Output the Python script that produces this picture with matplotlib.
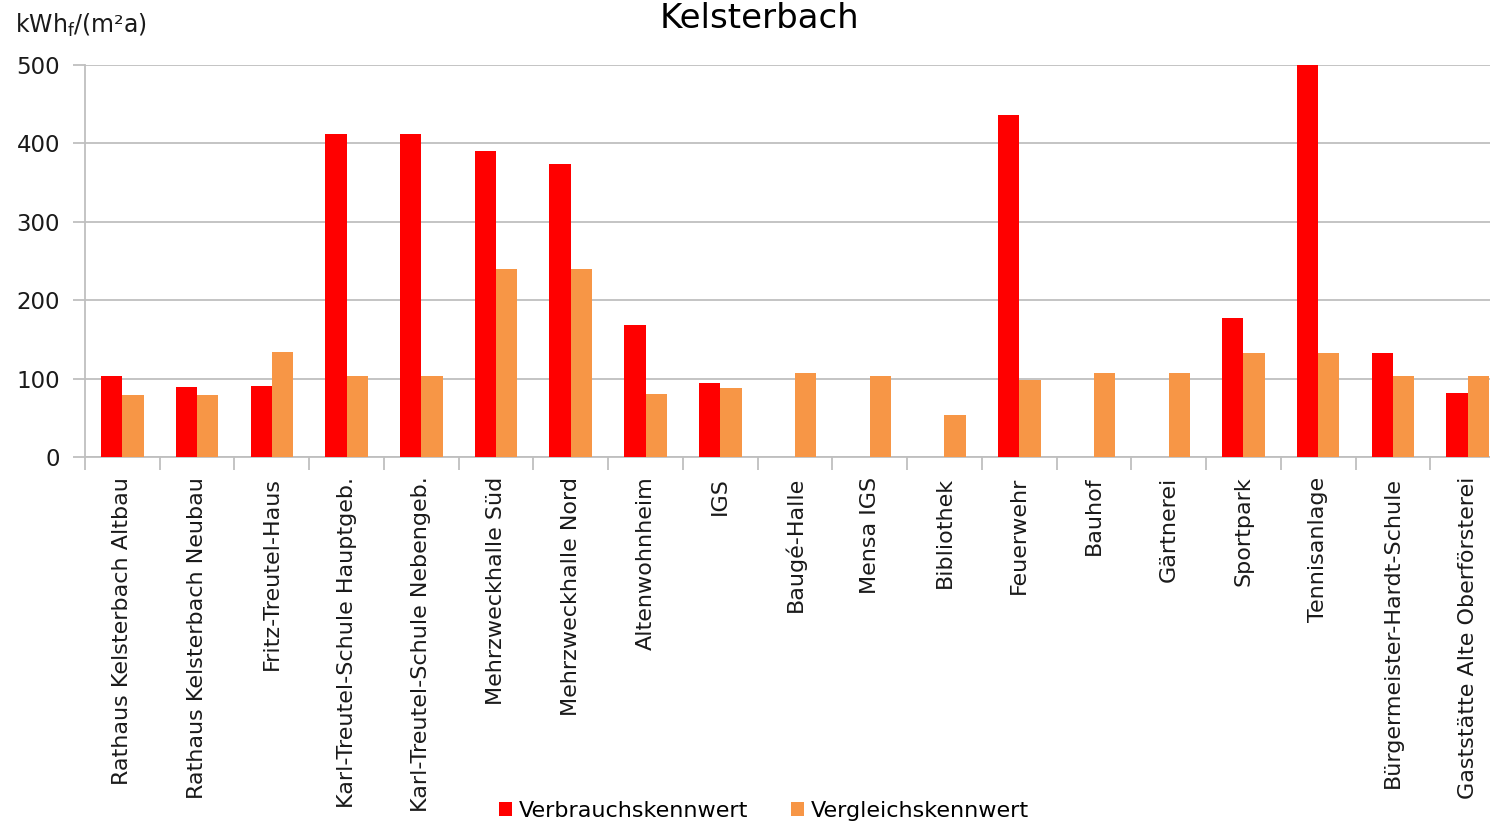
import matplotlib
matplotlib.use("Agg")
import matplotlib.pyplot as plt
import numpy as np

categories = [
    "Rathaus Kelsterbach Altbau", "Rathaus Kelsterbach Neubau", "Fritz-Treutel-Haus",
    "Karl-Treutel-Schule Hauptgeb.", "Karl-Treutel-Schule Nebengeb.", "Mehrzweckhalle Süd",
    "Mehrzweckhalle Nord", "Altenwohnheim", "IGS", "Baugé-Halle", "Mensa IGS",
    "Bibliothek", "Feuerwehr", "Bauhof", "Gärtnerei", "Sportpark", "Tennisanlage",
    "Bürgermeister-Hardt-Schule", "Gaststätte Alte Oberförsterei",
]
verbrauch = [104, 89, 91, 412, 412, 390, 374, 169, 95, 0, 0, 0, 436, 0, 0, 178, 500, 133, 82]
vergleich = [79, 79, 134, 103, 103, 240, 240, 81, 88, 108, 103, 54, 98, 108, 108, 133, 133, 103, 103]
series_names = ["Verbrauchskennwert", "Vergleichskennwert"]
yticks = [0, 100, 200, 300, 400, 500]

RED = "#FF0000"
ORANGE = "#F79646"
GRID = "#BFBFBF"

plt.rcParams['font.family'] = ['DejaVu Sans']
fig = plt.figure(figsize=(14.9, 8.26), dpi=100)
ax = fig.add_axes([85/1490, 1-457.3/826, (1505-85)/1490, (457.3-65)/826])

x = np.arange(len(categories))
w = 0.285
ax.bar(x - w/2, verbrauch, w, color=RED, label=series_names[0], zorder=3)
ax.bar(x + w/2, vergleich, w, color=ORANGE, label=series_names[1], zorder=3)

ax.set_xlim(-0.5, len(categories) - 0.5)
ax.set_ylim(0, 500)
ax.set_yticks(yticks)
ax.yaxis.grid(True, color=GRID, linewidth=1.3, zorder=0)
ax.set_axisbelow(True)

for s in ["top", "right"]:
    ax.spines[s].set_visible(False)
for s in ["left", "bottom"]:
    ax.spines[s].set_color(GRID)
    ax.spines[s].set_linewidth(1.3)

ax.set_xticks(x)
ax.set_xticklabels(categories, rotation=90, fontsize=16, color="#1a1a1a")
ax.tick_params(axis="x", which="major", length=0, pad=14)
ax.set_xticks(np.arange(-0.5, len(categories), 1), minor=True)
ax.tick_params(axis="x", which="minor", length=9, color=GRID, width=1.3)
ax.tick_params(axis="y", length=9, color=GRID, width=1.3, labelsize=16.5, pad=9, labelcolor="#1a1a1a")

fig.text(759/1490, 1-19/826, "Kelsterbach", ha="center", va="center", fontsize=24.5, color="black")
fig.text(15/1490, 1-25/826, r"kWh$_\mathregular{f}$/(m²a)", ha="left", va="center", fontsize=17, color="#1a1a1a")

fig.legend(loc="center", bbox_to_anchor=(764/1490, 1-811/826), ncol=2, frameon=False,
           fontsize=16, handlelength=0.6, handleheight=0.6, handletextpad=0.3, columnspacing=1.9)

fig.savefig("out.png", dpi=100)
